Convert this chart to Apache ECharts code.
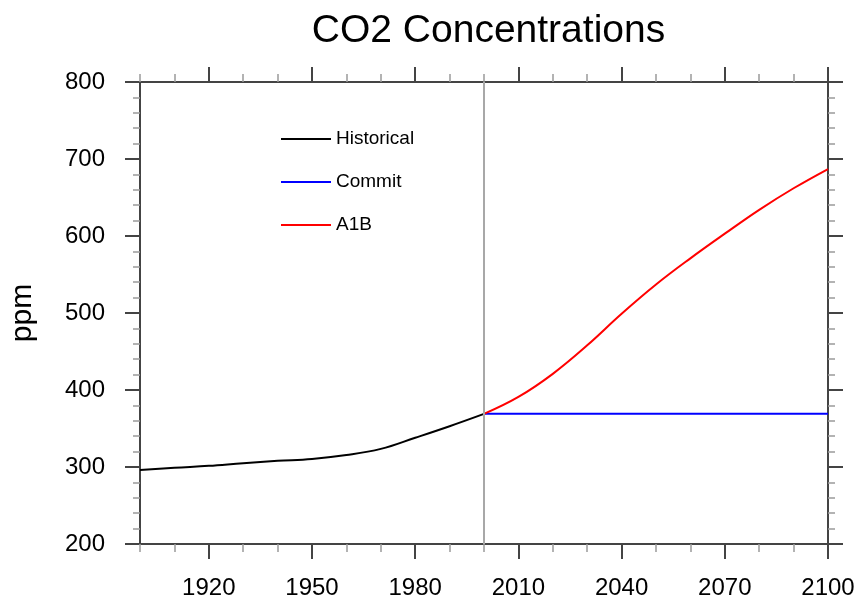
<!DOCTYPE html>
<html><head><meta charset="utf-8">
<script src="https://cdn.jsdelivr.net/npm/echarts@6/dist/echarts.min.js"></script>
<style>html,body{margin:0;padding:0;background:#fff}#c{width:861px;height:602px}</style>
</head><body><div id="c"></div>
<script>
const histYears = [1900,1910,1920,1930,1940,1950,1960,1970,1980,1990,2000];
const histValues = [296,299,301.5,305,308,310.5,315.5,323.5,338,353,369];
const futureYears = [2000,2010,2020,2030,2040,2050,2060,2070,2080,2090,2100];
const commitValues = [369,369,369,369,369,369,369,369,369,369,369];
const a1bValues = [369,391,421,458,499,537,571,603,634,662,687];
const xMajorTicks = [1920,1950,1980,2010,2040,2070,2100];
const dividerYear = 2000;
const seriesNames = ['Historical','Commit','A1B'];

const FONT = 'Liberation Sans, Arial, Helvetica, sans-serif';
const zip = (xs, ys) => xs.map((x, i) => [x, ys[i]]);

const minorX = (pos) => ({
  type:'value', position:pos, min:1900, max:2100, interval:10,
  axisLine:{show:true, onZero:false, lineStyle:{color:'#444', width:2}},
  axisTick:{show:true, inside:false, length:8, lineStyle:{color:'#9a9a9a', width:1.5}},
  axisLabel:{show:false}, splitLine:{show:false}
});
const majorX = (pos, labels) => ({
  type:'value', position:pos, min:1900, max:2100,
  axisLine:{show:false, onZero:false},
  axisTick:{show:true, inside:false, length:15, customValues:xMajorTicks, lineStyle:{color:'#444', width:2}},
  axisLabel:{show:labels, customValues:xMajorTicks, formatter:(v) => String(v),
    margin:32, fontSize:24, color:'#000', fontFamily:FONT},
  splitLine:{show:false}
});
const yAx = (pos, labels) => ({
  type:'value', position:pos, min:200, max:800, interval:100,
  axisLine:{show:true, onZero:false, lineStyle:{color:'#444', width:2}},
  axisTick:{show:true, inside:false, length:15, lineStyle:{color:'#444', width:2}},
  minorTick:{show:true, splitNumber:5, length:7, lineStyle:{color:'#9a9a9a', width:1.5}},
  axisLabel:{show:labels, margin:35, fontSize:24, color:'#000', fontFamily:FONT},
  splitLine:{show:false}, minorSplitLine:{show:false},
  name: labels ? 'ppm' : '', nameLocation:'middle', nameGap:102, nameRotate:90,
  nameTextStyle:{fontSize:30, color:'#000', fontFamily:FONT}
});

const chart = echarts.init(document.getElementById('c'), null, {renderer:'canvas'});
chart.setOption({
  backgroundColor:'#fff',
  animation:false,
  title:{text:'CO2 Concentrations', left:483.5, textAlign:'center', top:7,
    textStyle:{fontSize:39, fontWeight:'normal', color:'#000', fontFamily:FONT}},
  grid:{left:139, right:33, top:82, bottom:58, containLabel:false},
  legend:{data:seriesNames, orient:'vertical', left:281, top:129, icon:'rect',
    itemWidth:50, itemHeight:2, itemGap:23, padding:0,
    textStyle:{fontSize:19, lineHeight:20, color:'#000', fontFamily:FONT}},
  xAxis:[minorX('bottom'), majorX('bottom', true), minorX('top'), majorX('top', false)],
  yAxis:[yAx('left', true), yAx('right', false)],
  series:[
    {name:seriesNames[0], type:'line', xAxisIndex:0, yAxisIndex:0, data:zip(histYears, histValues),
      smooth:0.4, symbol:'none', lineStyle:{color:'#000', width:2}, itemStyle:{color:'#000'}, z:3,
      markLine:{silent:true, symbol:'none', label:{show:false},
        lineStyle:{color:'#a8a8a8', width:2, type:'solid'}, data:[{xAxis:dividerYear}]}},
    {name:seriesNames[1], type:'line', xAxisIndex:0, yAxisIndex:0, data:zip(futureYears, commitValues),
      symbol:'none', lineStyle:{color:'#0000ff', width:2}, itemStyle:{color:'#0000ff'}, z:3},
    {name:seriesNames[2], type:'line', xAxisIndex:0, yAxisIndex:0, data:zip(futureYears, a1bValues),
      smooth:0.4, symbol:'none', lineStyle:{color:'#ff0000', width:2}, itemStyle:{color:'#ff0000'}, z:3}
  ]
});
</script></body></html>
